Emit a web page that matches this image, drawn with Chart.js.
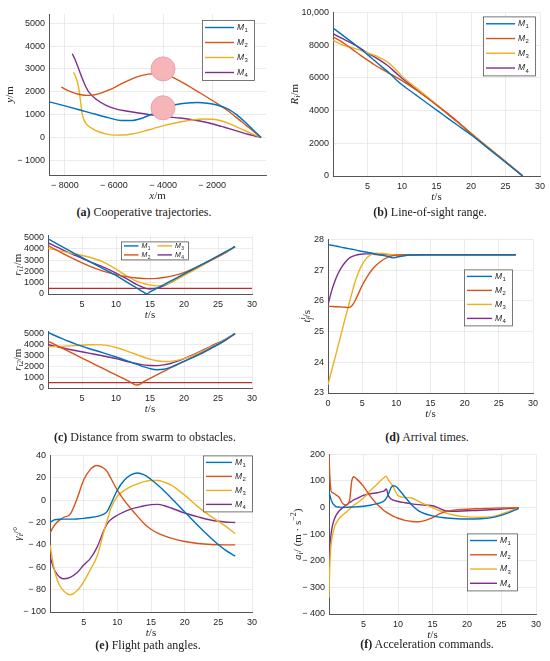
<!DOCTYPE html>
<html>

<head>
  <meta charset="utf-8">
  <title>Swarm guidance results</title>
  <script src="https://cdn.jsdelivr.net/npm/chart.js@4.4.1/dist/chart.umd.min.js"></script>
  <style>
    body { margin: 0; background: #fff; width: 550px; height: 661px; position: relative; overflow: hidden; }
    canvas { position: absolute; }
    .cap { position: absolute; font-family: 'Liberation Serif', serif; font-size: 12px; color: #222;
           white-space: nowrap; transform: translateX(-50%); }
  </style>
</head>

<body>
  <canvas id="pa"></canvas>
  <canvas id="pb"></canvas>
  <canvas id="pc1"></canvas>
  <canvas id="pc2"></canvas>
  <canvas id="pd"></canvas>
  <canvas id="pe"></canvas>
  <canvas id="pf"></canvas>

  <div class="cap" style="left:144px;top:205px"><b>(a)</b> Cooperative trajectories.</div>
  <div class="cap" style="left:430px;top:205px"><b>(b)</b> Line-of-sight range.</div>
  <div class="cap" style="left:145px;top:430px"><b>(c)</b> Distance from swarm to obstacles.</div>
  <div class="cap" style="left:427px;top:430px"><b>(d)</b> Arrival times.</div>
  <div class="cap" style="left:148px;top:638px"><b>(e)</b> Flight path angles.</div>
  <div class="cap" style="left:427px;top:637px"><b>(f)</b> Acceleration commands.</div>
</body>

</html>

<script>
  // (a) trajectories, x / y in m
  const xTraj1 = [-8650, -8000, -7000, -6200, -5700, -5300, -4900, -4500, -4000, -3500, -3000, -2600, -2200, -1800, -1400, -1000, -600, -300, 0];
  const yTraj1 = [1560, 1380, 1090, 860, 740, 740, 830, 1000, 1260, 1430, 1510, 1530, 1500, 1420, 1270, 1000, 620, 310, 0];
  const xTraj2 = [-8150, -7800, -7400, -7000, -6600, -6200, -5800, -5400, -5000, -4600, -4200, -3800, -3400, -3000, -2600, -2200, -1800, -1400, -1000, -600, -300, 0];
  const yTraj2 = [2200, 2020, 1880, 1840, 1920, 2080, 2290, 2500, 2670, 2770, 2800, 2730, 2520, 2280, 2020, 1760, 1490, 1200, 870, 520, 260, 0];
  const xTraj3 = [-7650, -7580, -7500, -7420, -7360, -7300, -7220, -7100, -6900, -6600, -6300, -6000, -5600, -5200, -4800, -4400, -4000, -3600, -3200, -2800, -2400, -2000, -1600, -1200, -800, -400, 0];
  const yTraj3 = [2850, 2700, 2450, 2050, 1550, 1050, 760, 560, 400, 240, 150, 105, 110, 170, 270, 390, 510, 610, 700, 770, 810, 800, 720, 560, 370, 180, 0];
  const xTraj4 = [-7700, -7600, -7450, -7300, -7150, -7000, -6700, -6300, -5900, -5500, -5000, -4500, -4000, -3500, -3000, -2500, -2000, -1500, -1000, -500, 0];
  const yTraj4 = [3660, 3440, 3030, 2600, 2220, 1950, 1650, 1390, 1240, 1160, 1070, 990, 930, 870, 810, 720, 600, 450, 290, 130, 0];
  const xObs = [-4000, -4000];
  const yObs = [3000, 1300];

  // (b) line-of-sight range
  const tRange = [0, 1, 2, 3, 4, 5, 6, 7, 8, 9, 10, 12, 14, 16, 18, 20, 22, 24, 26, 27.5];
  const range1 = [9050, 8730, 8410, 8090, 7760, 7420, 7060, 6700, 6360, 5950, 5580, 4960, 4340, 3730, 3120, 2520, 1850, 1180, 500, 0];
  const range2 = [8500, 8270, 7990, 7680, 7370, 7080, 6800, 6550, 6300, 6080, 5830, 5270, 4660, 4020, 3350, 2600, 1900, 1210, 520, 0];
  const range3 = [8300, 8080, 7930, 7820, 7680, 7530, 7380, 7180, 6930, 6550, 6100, 5400, 4720, 4030, 3320, 2620, 1930, 1240, 540, 0];
  const range4 = [8700, 8480, 8260, 8050, 7800, 7520, 7280, 7020, 6720, 6350, 5970, 5330, 4680, 4000, 3300, 2600, 1910, 1230, 530, 0];

  // (c) distance to obstacle 1 and 2
  const tObs1 = [0, 2, 4, 6, 8, 10, 12, 13, 14, 14.5, 15, 16, 17, 18, 20, 22, 24, 26, 27.5];
  const dist11 = [4900, 4230, 3570, 2920, 2280, 1650, 900, 550, 180, 20, 180, 500, 820, 1140, 1780, 2420, 3060, 3710, 4200];
  const dist12 = [4300, 3650, 3050, 2500, 2050, 1720, 1500, 1420, 1370, 1360, 1360, 1390, 1460, 1560, 1900, 2420, 3020, 3650, 4200];
  const dist13 = [4050, 3800, 3550, 3280, 2870, 2200, 1450, 1150, 950, 870, 800, 720, 780, 1000, 1650, 2300, 2980, 3620, 4200];
  const dist14 = [4550, 3960, 3420, 2900, 2420, 1850, 1200, 850, 580, 480, 450, 520, 720, 1000, 1700, 2380, 3020, 3650, 4200];
  const tObs2 = [0, 2, 4, 6, 8, 10, 12, 12.5, 13, 13.5, 14, 15, 16, 17, 18, 20, 22, 24, 26, 27.5];
  const dist21 = [5100, 4550, 4050, 3630, 3250, 2850, 2420, 2310, 2200, 2080, 1970, 1780, 1680, 1720, 1900, 2450, 3000, 3650, 4350, 5000];
  const dist22 = [4300, 3680, 3060, 2440, 1820, 1200, 580, 400, 280, 330, 560, 880, 1200, 1520, 1840, 2440, 3060, 3690, 4350, 5000];
  const dist23 = [3800, 3820, 3900, 3980, 3960, 3720, 3300, 3190, 3080, 2960, 2850, 2650, 2500, 2430, 2450, 2700, 3200, 3800, 4400, 5000];
  const dist24 = [4000, 3700, 3440, 3200, 2960, 2700, 2380, 2310, 2250, 2180, 2120, 2070, 2060, 2120, 2250, 2700, 3250, 3850, 4450, 5000];
  const tSafe = [0, 30];
  const rSafe = [500, 500];

  // (d) estimated arrival times
  const tArr = [0, 0.5, 1, 1.5, 2, 2.5, 3, 3.5, 4, 4.5, 5, 5.5, 6, 6.5, 7, 8, 9, 9.5, 10, 11, 12, 14, 17, 20, 24, 27.5];
  const arr1 = [27.83, 27.81, 27.79, 27.77, 27.74, 27.72, 27.70, 27.68, 27.66, 27.63, 27.61, 27.59, 27.57, 27.55, 27.52, 27.48, 27.43, 27.40, 27.42, 27.46, 27.49, 27.5, 27.5, 27.5, 27.5, 27.5];
  const arr2 = [25.82, 25.82, 25.81, 25.81, 25.80, 25.79, 25.78, 25.84, 26.02, 26.26, 26.5, 26.7, 26.88, 27.03, 27.15, 27.33, 27.44, 27.47, 27.49, 27.5, 27.5, 27.5, 27.5, 27.5, 27.5, 27.5];
  const arr3 = [23.27, 23.7, 24.12, 24.55, 24.98, 25.42, 25.84, 26.25, 26.64, 26.95, 27.18, 27.35, 27.46, 27.52, 27.55, 27.54, 27.51, 27.5, 27.5, 27.5, 27.5, 27.5, 27.5, 27.5, 27.5, 27.5];
  const arr4 = [25.87, 26.3, 26.64, 26.9, 27.1, 27.25, 27.37, 27.44, 27.48, 27.51, 27.52, 27.53, 27.53, 27.52, 27.51, 27.5, 27.5, 27.5, 27.5, 27.5, 27.5, 27.5, 27.5, 27.5, 27.5, 27.5];

  // (e) flight path angles, deg
  const tAng = [0, 0.5, 1, 1.5, 2, 3, 4, 5, 6, 7, 8, 8.5, 9, 10, 11, 12, 13, 14, 15, 16, 17, 18, 20, 22, 24, 26, 27.5];
  const ang1 = [-20, -18, -17.3, -17.1, -17, -17, -16.8, -16.3, -15.5, -14.5, -12.5, -10, -4, 9, 17.5, 22.5, 24.3, 22.5, 18.5, 13.5, 8, 2, -10.5, -23, -34.5, -44.5, -50];
  const ang2 = [-29.5, -24, -20, -17.5, -15.5, -12.5, 1, 18, 27.5, 31, 28.5, 25.5, 20, 9, 0, -7.5, -14.5, -21, -26, -29.5, -32, -34, -37, -38.8, -39.7, -40, -40];
  const ang3 = [-40, -58, -70, -77, -81, -84.6, -81, -73, -62, -50, -28, -18, -8, 3.5, 8.5, 12, 14.5, 16.5, 17.5, 17.5, 16, 13.5, 4.5, -6, -15, -23, -30];
  const ang4 = [-50, -60, -66, -69, -70.3, -69, -65, -58, -52, -42, -27, -21, -17.5, -13.5, -10.5, -8, -6.5, -5, -4, -3.8, -5, -7, -11.5, -15, -18, -19.5, -20];

  // (f) acceleration commands
  const tAcc = [0, 0.1, 0.3, 0.5, 0.8, 1, 1.5, 2, 2.5, 3, 3.3, 3.6, 4, 5, 6, 7, 7.5, 8, 8.3, 8.6, 9, 9.3, 9.6, 10, 11, 12, 13, 14, 15, 16, 17, 18, 20, 22, 24, 26, 27.5];
  const acc1 = [60, 50, 30, 18, 8, 4, 2, 1, 1, 2, 2, 2.5, 3, 5, 9, 15, 19, 26, 35, 50, 75, 82, 81, 72, 40, 10, -12, -24, -31, -36, -39, -41, -43, -42, -36, -20, -3];
  const acc2 = [200, 130, 62, 56, 52, 48, 38, 15, 10, 30, 100, 116, 108, 80, 42, 12, 0, -12, -17, -22, -28, -32, -36, -40, -48, -52, -53, -48, -38, -24, -14, -10, -6, -4, -2, -1, 0];
  const acc3 = [-340, -230, -140, -105, -72, -60, -40, -28, -17, -5, 2, 9, 16, 36, 64, 89, 102, 113, 118, 104, 90, 80, 62, 45, 38, 36, 23, 11, 0, -11, -21, -28, -35, -36, -32, -15, 0];
  const acc4 = [-175, -150, -100, -68, -42, -30, -12, 0, 9, 19, 24, 29, 34, 46, 52, 56, 59, 63, 70, 45, 32, 28, 26, 23, 18, 14, 11, 9, 7, -3, -13, -14, -12, -10, -7, -4, -1];

  const names = ['M1', 'M2', 'M3', 'M4'];
  const colors = ['#0072BD', '#D95319', '#EDB120', '#7E2F8E'];
  const tTicks = [5, 10, 15, 20, 25, 30];

  const T_S = [['t', 'i'], ['/s', '']];
  // axis titles, legend boxes (page px) and plot rectangles
  const deco = {
    pa: { rect: [49, 9, 266, 175], xt: [['x', 'i'], ['/m', '']], yt: [['y', 'i'], ['/m', '']], yOff: 39,
          legend: { box: [202, 15, 52, 60], cols: 1, size: 8.5 } },
    pb: { rect: [333, 11, 540, 176], xt: T_S, yt: [['R', 'i'], ['i', 'i_'], ['/m', '']], yOff: 38,
          legend: { box: [483, 15, 52, 59], cols: 1, size: 8.5 } },
    pc1: { rect: [48, 234, 252, 294], xt: T_S, yt: [['r', 'i'], ['i1', 'i_'], ['/m', '']], yOff: 30,
          legend: { box: [121, 240, 67, 18], cols: 2, size: 7 } },
    pc2: { rect: [48, 330, 252, 388], xt: T_S, yt: [['r', 'i'], ['i2', 'i_'], ['/m', '']], yOff: 30 },
    pd: { rect: [328, 238, 533, 393], xt: T_S, yt: [['t', 'i'], ['f', 'i_'], ['i', 'i^k'], ['/s', '']], yOff: 21,
          legend: { box: [464, 268, 48, 56], cols: 1, size: 8.5 } },
    pe: { rect: [50, 454, 252, 612], xt: T_S, yt: [['γ', 'i'], ['i', 'i_'], ['/°', '']], yOff: 32,
          legend: { box: [203, 454, 49, 56], cols: 1, size: 8.5 } },
    pf: { rect: [329, 453, 536, 614], xt: T_S, yt: [['a', 'i'], ['i', 'i_'], ['/ (m · s', ''], ['−2', '^'], [')', '']], yOff: 31,
          legend: { box: [467, 532, 50, 57], cols: 1, size: 8.5 } },
  };

  function drawRich(ctx, segs, cx, cy, rot) {
    ctx.save();
    ctx.translate(cx, cy);
    ctx.rotate(rot);
    ctx.textBaseline = 'middle';
    ctx.fillStyle = '#262626';
    const font = f => (f.includes('i') ? 'italic ' : '') + (/[_^]/.test(f) ? 8 : 11) + 'px "Liberation Serif", serif';
    const place = [];
    let x = 0, prevX = 0, prevW = 0;
    segs.forEach(([t, f]) => {
      ctx.font = font(f);
      const w = ctx.measureText(t).width;
      if (f.includes('k')) {
        const adv = Math.max(prevW, w);
        place.push([t, f, prevX]);
        x = prevX + adv;
        prevW = adv;
      } else {
        place.push([t, f, x]);
        prevX = x; prevW = w; x += w;
      }
    });
    const total = x;
    place.forEach(([t, f, px]) => {
      ctx.font = font(f);
      const dy = f.includes('_') ? 3 : (f.includes('^') ? -4 : 0);
      ctx.fillText(t, px - total / 2, dy);
    });
    ctx.restore();
  }

  const matlabDeco = {
    id: 'matlabDeco',
    afterDraw(chart) {
      const d = deco[chart.canvas.id];
      if (!d) return;
      const ctx = chart.ctx, a = chart.chartArea;
      drawRich(ctx, d.xt, (a.left + a.right) / 2, a.bottom + 21, 0);
      drawRich(ctx, d.yt, a.left - d.yOff, (a.top + a.bottom) / 2, -Math.PI / 2);

      const lg = d.legend;
      if (!lg) return;
      const bx = a.left + lg.box[0] - d.rect[0], by = a.top + lg.box[1] - d.rect[1];
      const bw = lg.box[2], bh = lg.box[3];
      ctx.save();
      ctx.fillStyle = '#fff';
      ctx.fillRect(bx, by, bw, bh);
      ctx.strokeStyle = '#555';
      ctx.lineWidth = 0.8;
      ctx.strokeRect(bx + 0.5, by + 0.5, bw, bh);
      const items = chart.data.datasets.filter(ds => ds.inLegend);
      const rows = Math.ceil(items.length / lg.cols), colW = bw / lg.cols, rowH = bh / rows;
      const textW = lg.cols > 1 ? 13 : 17;
      items.forEach((ds, i) => {
        const c = Math.floor(i / rows), r = i % rows;
        const x0 = bx + c * colW, y0 = by + (r + 0.5) * rowH;
        ctx.strokeStyle = ds.borderColor;
        ctx.lineWidth = 1.4;
        ctx.beginPath();
        ctx.moveTo(x0 + 3, y0);
        ctx.lineTo(x0 + colW - textW - 3, y0);
        ctx.stroke();
        ctx.fillStyle = '#222';
        ctx.textBaseline = 'middle';
        ctx.font = 'italic ' + lg.size + 'px "Liberation Sans", sans-serif';
        const tx = x0 + colW - textW;
        ctx.fillText(ds.label[0], tx, y0);
        const mw = ctx.measureText(ds.label[0]).width;
        ctx.font = (lg.size * 0.7).toFixed(1) + 'px "Liberation Sans", sans-serif';
        ctx.fillText(ds.label.slice(1), tx + mw + 0.5, y0 + lg.size * 0.35);
      });
      ctx.restore();
    }
  };
  Chart.register(matlabDeco);

  function pts(xs, ys) {
    return xs.map((x, i) => ({ x: x, y: ys[i] }));
  }

  function uav(i, xs, ys) {
    return {
      label: names[i], inLegend: true, data: pts(xs, ys),
      borderColor: colors[i], backgroundColor: colors[i], borderWidth: 1.4,
      pointRadius: 0, cubicInterpolationMode: 'monotone', order: 1,
    };
  }

  function safeLine() {
    return {
      label: 'safe', data: pts(tSafe, rSafe), borderColor: '#B2312F', borderWidth: 1.3,
      pointRadius: 0, order: 2,
    };
  }

  const fmt = v => v < 0 ? '\u2212 ' + Math.abs(v) : (v >= 10000 ? v.toLocaleString('en-US') : String(v));

  function panel(id, xLim, yLim, xTicks, yTicks, datasets) {
    const [L, T, R, B] = deco[id].rect;
    const cv = document.getElementById(id);
    cv.width = R - L + 64;
    cv.height = B - T + 38;
    cv.style.left = (L - 48) + 'px';
    cv.style.top = (T - 8) + 'px';

    const tickFont = { family: 'Liberation Sans', size: 9 };
    const axis = (lim, ticks, isX) => ({
      type: 'linear', min: lim[0], max: lim[1],
      afterBuildTicks: s => { s.ticks = ticks.map(v => ({ value: v })); },
      afterFit: s => { if (isX) s.height = 30; else s.width = 48; },
      grid: { color: '#E6E6E6', lineWidth: 0.8, drawTicks: false },
      border: { color: '#555', width: 1 },
      ticks: { padding: isX ? 5 : 4, font: tickFont, color: '#262626', maxRotation: 0, autoSkip: false, callback: fmt },
    });

    return new Chart(cv, {
      type: 'line',
      data: { datasets: datasets },
      options: {
        responsive: false,
        animation: false,
        events: [],
        layout: { padding: { left: 0, top: 8, right: 16, bottom: 0 } },
        plugins: { legend: { display: false }, tooltip: { enabled: false } },
        scales: { x: axis(xLim, xTicks, true), y: axis(yLim, yTicks, false) },
      },
    });
  }

  // (a)
  panel('pa', [-8650, 200], [-1640, 5400], [-8000, -6000, -4000, -2000], [-1000, 0, 1000, 2000, 3000, 4000, 5000], [
    {
      label: 'obstacles', data: pts(xObs, yObs), showLine: false, pointRadius: 12,
      pointBackgroundColor: '#F6B5B8', pointBorderColor: '#EE9EA2', pointBorderWidth: 1, order: 0,
    },
    uav(0, xTraj1, yTraj1), uav(1, xTraj2, yTraj2), uav(2, xTraj3, yTraj3), uav(3, xTraj4, yTraj4),
  ]);

  // (b)
  panel('pb', [0, 30], [0, 10000], tTicks, [0, 2000, 4000, 6000, 8000, 10000], [
    uav(0, tRange, range1), uav(1, tRange, range2), uav(2, tRange, range3), uav(3, tRange, range4),
  ]);

  // (c)
  panel('pc1', [0, 30], [0, 5200], tTicks, [0, 1000, 2000, 3000, 4000, 5000], [
    uav(0, tObs1, dist11), uav(1, tObs1, dist12), uav(2, tObs1, dist13), uav(3, tObs1, dist14), safeLine(),
  ]);
  panel('pc2', [0, 30], [0, 5200], tTicks, [0, 1000, 2000, 3000, 4000, 5000], [
    uav(0, tObs2, dist21), uav(1, tObs2, dist22), uav(2, tObs2, dist23), uav(3, tObs2, dist24), safeLine(),
  ]);

  // (d)
  panel('pd', [0, 30], [23, 28], [0, 5, 10, 15, 20, 25, 30], [23, 24, 25, 26, 27, 28], [
    uav(0, tArr, arr1), uav(1, tArr, arr2), uav(2, tArr, arr3), uav(3, tArr, arr4),
  ]);

  // (e)
  panel('pe', [0, 30], [-100, 40], tTicks, [-100, -80, -60, -40, -20, 0, 20, 40], [
    uav(0, tAng, ang1), uav(1, tAng, ang2), uav(2, tAng, ang3), uav(3, tAng, ang4),
  ]);

  // (f)
  panel('pf', [0, 30], [-400, 200], tTicks, [-400, -300, -200, -100, 0, 100, 200], [
    uav(0, tAcc, acc1), uav(1, tAcc, acc2), uav(2, tAcc, acc3), uav(3, tAcc, acc4),
  ]);
</script>
